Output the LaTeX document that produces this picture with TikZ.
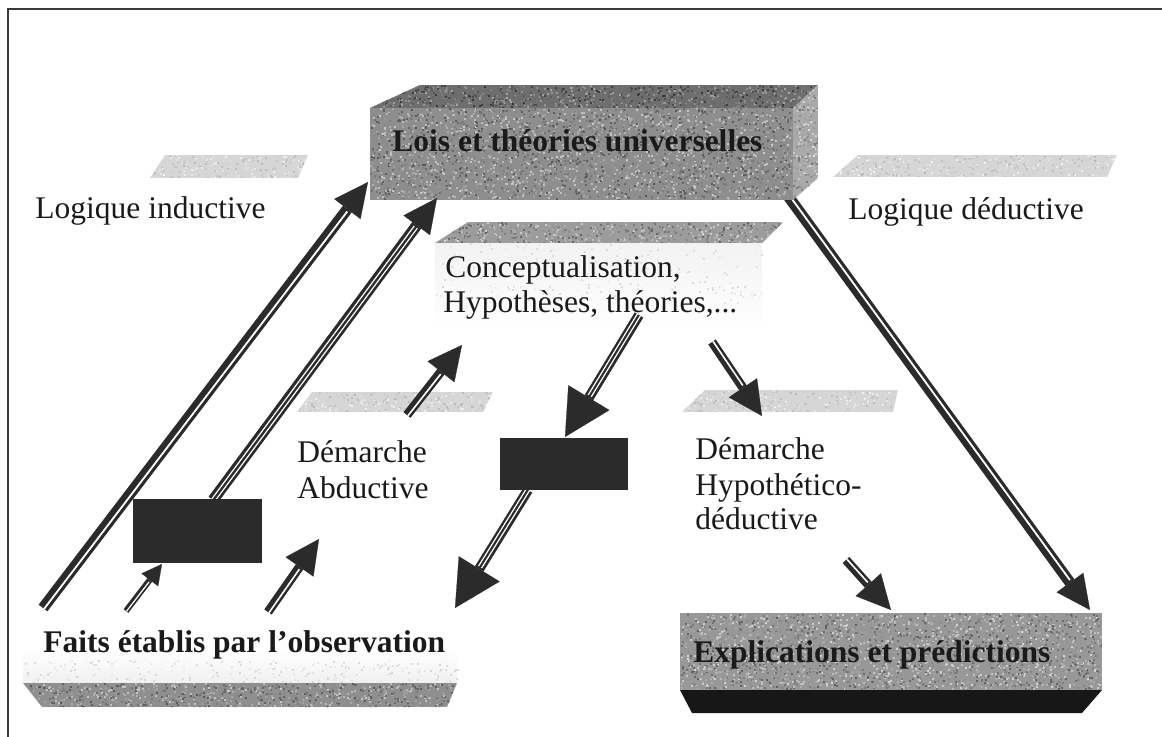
\documentclass[tikz,border=0pt]{standalone}
\usepackage{fontspec}
\setmainfont{Liberation Serif}
\usetikzlibrary{arrows.meta,calc}
\definecolor{ink}{HTML}{2B2B2B}
\definecolor{txtc}{HTML}{1A1A1A}
\definecolor{framec}{HTML}{3A3A3A}
\definecolor{loistop}{HTML}{6E6E6E}
\definecolor{loisfront}{HTML}{8E8E8E}
\definecolor{loisside}{HTML}{A9A9A9}
\definecolor{midbar}{HTML}{9C9C9C}
\definecolor{lightbar}{HTML}{D6D6D6}
\definecolor{faitsbar}{HTML}{8F8F8F}
\definecolor{explfront}{HTML}{989898}
\definecolor{explbottom}{HTML}{171717}
% speckled texture: x0, y0, width, height, count, base grey (black %), spread
\newcommand\grain[7]{%
  \foreach \k in {1,...,#5}{%
    \pgfmathsetmacro\gx{#1+rnd*#3}%
    \pgfmathsetmacro\gy{#2+rnd*#4}%
    \pgfmathtruncatemacro\gv{#6+(rnd-0.5)*#7}%
    \fill[black!\gv] (\gx,\gy) rectangle ++(2,2);%
  }}
% white stripe inside an arrow shaft, shifted sideways by #4
\newcommand\stripe[4]{\draw[#1] ($(#2)!#4!90:(#3)$) -- ($(#3)!#4!-90:(#2)$);}
\begin{document}
\begin{tikzpicture}[x=0.5pt,y=-0.5pt,
  txt/.style={font=\fontsize{15.75}{18}\selectfont, inner sep=0pt, anchor=base west, text=txtc},
  btxt/.style={txt, font=\fontsize{15.75}{18}\selectfont\bfseries},
  bigA/.style={draw=ink, line width=5.5pt, -{Triangle[length=17pt,width=16.5pt,line width=0.1pt]}},
  bigA stripe/.style={draw=white, line width=0.9pt, shorten >=18pt},
  thinA stripe/.style={draw=white, line width=0.6pt, shorten >=18pt},
  medA/.style={draw=ink, line width=4.5pt, -{Triangle[length=17pt,width=17pt,line width=0.1pt]}},
  medA stripe/.style={draw=white, line width=0.8pt, shorten >=18pt},
  smallA/.style={draw=ink, line width=3pt, -{Triangle[length=10pt,width=10.5pt,line width=0.1pt]}},
  smallA stripe/.style={draw=white, line width=0.6pt, shorten >=11pt},
  headA/.style={draw=ink, line width=5pt, -{Triangle[length=23pt,width=24pt,line width=0.1pt]}},
  headA stripe/.style={draw=white, line width=0.6pt, shorten >=24pt},
  blk/.style={fill=ink}
]
\pgfmathsetseed{4242}
\useasboundingbox (0,0) rectangle (1162,737);

% outer frame (top and left rules)
\draw[framec, line width=1pt] (8,737) -- (8,9) -- (1162,9);

% light label bars
\begin{scope}
  \clip (150,178) -- (298,178) -- (308,155) -- (165,155) -- cycle;
  \fill[lightbar] (150,155) rectangle (308,178);
  \grain{150}{155}{158}{23}{220}{17}{22}
\end{scope}
\begin{scope}
  \clip (833,177) -- (1107,177) -- (1117,155) -- (858,155) -- cycle;
  \fill[lightbar] (833,155) rectangle (1117,177);
  \grain{833}{155}{284}{22}{380}{17}{22}
\end{scope}
\begin{scope}
  \clip (297,412) -- (483,412) -- (493,392) -- (312,392) -- cycle;
  \fill[lightbar] (297,392) rectangle (493,412);
  \grain{297}{392}{196}{20}{240}{17}{22}
\end{scope}
\begin{scope}
  \clip (682,412) -- (893,412) -- (898,390) -- (705,390) -- cycle;
  \fill[lightbar] (682,390) rectangle (898,412);
  \grain{682}{390}{216}{22}{280}{17}{22}
\end{scope}

% conceptualisation slab
\shade[top color=gray!10, bottom color=white] (435,243) rectangle (762,330);
\grain{435}{243}{327}{60}{260}{9}{12}
\begin{scope}
  \clip (435,243) -- (762,243) -- (783,222) -- (468,222) -- cycle;
  \fill[midbar] (435,222) rectangle (783,243);
  \grain{435}{222}{348}{21}{600}{40}{44}
\end{scope}

% observation slab
\shade[top color=white, bottom color=gray!12] (23,650) rectangle (457,683);
\grain{23}{660}{434}{23}{300}{10}{14}
\begin{scope}
  \clip (23,683) -- (457,683) -- (447,707) -- (42,707) -- cycle;
  \fill[faitsbar] (23,683) rectangle (457,707);
  \grain{23}{683}{434}{24}{900}{44}{44}
\end{scope}

% arrow ends
\coordinate (a1s) at (43,608);   \coordinate (a1e) at (368,182);
\coordinate (a2s) at (213,500);  \coordinate (a2e) at (437,198);
\coordinate (a3s) at (126,611);  \coordinate (a3e) at (162,564);
\coordinate (a4s) at (268,612);  \coordinate (a4e) at (319,539);
\coordinate (a5s) at (407,415);  \coordinate (a5e) at (462,345);
\coordinate (a6s) at (639,315);  \coordinate (a6e) at (565,437);
\coordinate (a7s) at (528,490);  \coordinate (a7e) at (455,608);
\coordinate (a8s) at (712,342);  \coordinate (a8e) at (762,416);
\coordinate (a9s) at (846,560);  \coordinate (a9e) at (891,610);
\coordinate (a10s) at (780,185); \coordinate (a10e) at (1090,610);

% deductive arrow, starting under the top block
\draw[bigA] (a10s) -- (a10e); \stripe{bigA stripe}{a10s}{a10e}{0.7pt}

% top block: laws and universal theories
\begin{scope}
  \clip (370,108) -- (793,108) -- (818,85) -- (420,85) -- cycle;
  \fill[loistop] (370,85) rectangle (818,108);
  \grain{370}{85}{448}{23}{900}{57}{44}
\end{scope}
\begin{scope}
  \clip (793,108) -- (818,85) -- (818,178) -- (793,200) -- cycle;
  \fill[loisside] (793,85) rectangle (818,200);
  \grain{793}{85}{25}{115}{260}{34}{40}
\end{scope}
\fill[loisfront] (370,108) rectangle (793,200);
\grain{370}{108}{421}{90}{3000}{44}{46}

% bottom right block: explanations and predictions
\fill[explfront] (680,613) rectangle (1102,690);
\grain{680}{613}{420}{75}{2600}{40}{46}
\fill[explbottom] (680,690) -- (1102,690) -- (1082,713) -- (692,713) -- cycle;

% arrows
\draw[bigA] (a1s) -- (a1e); \stripe{bigA stripe}{a1s}{a1e}{-0.7pt}
\draw[bigA] (a2s) -- (a2e); \stripe{thinA stripe}{a2s}{a2e}{-1.1pt}\stripe{thinA stripe}{a2s}{a2e}{0.8pt}
\draw[smallA] (a3s) -- (a3e); \stripe{smallA stripe}{a3s}{a3e}{-0.3pt}
\draw[medA] (a4s) -- (a4e); \stripe{medA stripe}{a4s}{a4e}{-0.6pt}
\draw[medA] (a5s) -- (a5e); \stripe{medA stripe}{a5s}{a5e}{-0.6pt}
\draw[headA] (a6s) -- (a6e); \stripe{headA stripe}{a6s}{a6e}{-1.0pt}\stripe{headA stripe}{a6s}{a6e}{0.8pt}
\draw[headA] (a7s) -- (a7e); \stripe{headA stripe}{a7s}{a7e}{-1.0pt}\stripe{headA stripe}{a7s}{a7e}{0.8pt}
\draw[medA] (a8s) -- (a8e); \stripe{medA stripe}{a8s}{a8e}{0.6pt}
\draw[medA] (a9s) -- (a9e); \stripe{medA stripe}{a9s}{a9e}{0.6pt}

% blocking rectangles
\fill[blk] (133,499) rectangle (262,563);
\fill[blk] (500,438) rectangle (628,490);

% labels
\node[txt] (li) at (35,219) {Logique inductive};
\node[txt] (ld) at (848,220) {Logique déductive};
\node[btxt] (lois) at (392,152) {Lois et théories universelles};
\node[txt] (c1) at (445,278) {Conceptualisation,};
\node[txt] (c2) at (443,313) {Hypothèses, théories,...};
\node[txt] (ab1) at (297,463) {Démarche};
\node[txt] (ab2) at (297,498) {Abductive};
\node[txt] (hd1) at (695,459) {Démarche};
\node[txt] (hd2) at (695,495) {Hypothético-};
\node[txt] (hd3) at (695,530) {déductive};
\node[btxt] (faits) at (43,652) {Faits établis par l’observation};
\node[btxt] (expl) at (693,662) {Explications et prédictions};
\end{tikzpicture}
\end{document}
